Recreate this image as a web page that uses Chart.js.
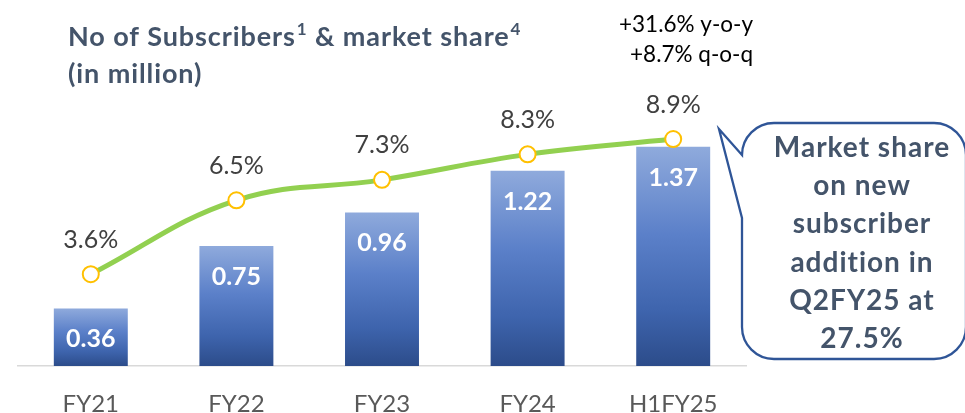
<!DOCTYPE html>
<html><head><meta charset="utf-8">
<script src="https://cdn.jsdelivr.net/npm/chart.js@4.4.1/dist/chart.umd.min.js"></script>
<style>html,body{margin:0;padding:0;background:#fff;}canvas{display:block}</style>
</head><body>
<canvas id="c" width="965" height="413"></canvas>
<script>
const categories = ['FY21', 'FY22', 'FY23', 'FY24', 'H1FY25'];
const subscribers = [0.36, 0.75, 0.96, 1.22, 1.37];
const marketShare = [3.6, 6.5, 7.3, 8.3, 8.9];
const subscriberLabels = ['0.36', '0.75', '0.96', '1.22', '1.37'];
const shareLabels = ['3.6%', '6.5%', '7.3%', '8.3%', '8.9%'];
const titleLine1 = [['No of Subscribers', false], ['1', true], [' & market share', false], ['4', true]];
const titleLine2 = '(in million)';
const growthNotes = ['+31.6% y-o-y', '+8.7% q-o-q'];
const calloutLines = ['Market share', 'on new', 'subscriber', 'addition in', 'Q2FY25 at', '27.5%'];

const FONT = 'Lato, "Open Sans", sans-serif';

function barGradient(c) {
  const chart = c.chart;
  const ys = chart.scales.y;
  if (!ys || c.raw === undefined) return '#4472c4';
  const top = ys.getPixelForValue(c.raw);
  const bot = ys.getPixelForValue(0);
  if (!isFinite(top) || !isFinite(bot) || top === bot) return '#4472c4';
  const g = chart.ctx.createLinearGradient(0, top, 0, bot);
  g.addColorStop(0, '#8faadc');
  g.addColorStop(0.4, '#5b80c9');
  g.addColorStop(0.75, '#3e64ad');
  g.addColorStop(1, '#2c4c8a');
  return g;
}

const overlay = {
  id: 'overlay',
  afterDatasetsDraw(chart) {
    const ctx = chart.ctx;
    ctx.save();
    ctx.textAlign = 'center';
    ctx.textBaseline = 'alphabetic';
    const bm = chart.getDatasetMeta(0);
    ctx.font = 'bold 25px ' + FONT;
    ctx.fillStyle = '#ffffff';
    bm.data.forEach((el, i) => ctx.fillText(subscriberLabels[i], el.x, el.y + 39));
    const lm = chart.getDatasetMeta(1);
    ctx.font = '25px ' + FONT;
    ctx.fillStyle = '#404040';
    lm.data.forEach((el, i) => ctx.fillText(shareLabels[i], el.x, el.y - 26.5));
    ctx.restore();
  },
  afterDraw(chart) {
    const ctx = chart.ctx;
    ctx.save();
    // title
    ctx.textAlign = 'left';
    ctx.textBaseline = 'alphabetic';
    ctx.fillStyle = '#44546a';
    ctx.letterSpacing = '0.9px';
    let x = 68;
    titleLine1.forEach(([t, sup]) => {
      if (sup) {
        ctx.font = 'bold 17px ' + FONT;
        ctx.fillText(t, x + 1, 35);
        x += ctx.measureText(t).width + 1;
      } else {
        ctx.font = 'bold 27px ' + FONT;
        ctx.fillText(t, x, 46);
        x += ctx.measureText(t).width;
      }
    });
    ctx.font = 'bold 27px ' + FONT;
    ctx.fillText(titleLine2, 68, 83);
    ctx.letterSpacing = '0px';
    // growth notes
    ctx.font = '22.5px ' + FONT;
    ctx.fillStyle = '#000000';
    ctx.textAlign = 'right';
    ctx.fillText(growthNotes[0], 753, 32);
    ctx.fillText(growthNotes[1], 753, 62);
    // callout shape
    const L = 742, T = 123, R = 966, B = 359, r = 32;
    ctx.beginPath();
    ctx.moveTo(L, 218);
    ctx.lineTo(719, 129);
    ctx.lineTo(L, T + r);
    ctx.arcTo(L, T, L + r, T, r);
    ctx.lineTo(R - r, T);
    ctx.arcTo(R, T, R, T + r, r);
    ctx.lineTo(R, B - r);
    ctx.arcTo(R, B, R - r, B, r);
    ctx.lineTo(L + r, B);
    ctx.arcTo(L, B, L, B - r, r);
    ctx.closePath();
    ctx.fillStyle = '#ffffff';
    ctx.fill();
    ctx.lineWidth = 2.3;
    ctx.strokeStyle = '#2f5597';
    ctx.lineJoin = 'miter';
    ctx.stroke();
    ctx.font = 'bold 28px ' + FONT;
    ctx.letterSpacing = '1px';
    ctx.fillStyle = '#44546a';
    ctx.textAlign = 'center';
    calloutLines.forEach((t, i) => ctx.fillText(t, 862, 157 + i * 38.2));
    ctx.restore();
  }
};

new Chart(document.getElementById('c'), {
  data: {
    labels: categories,
    datasets: [
      {
        type: 'bar',
        data: subscribers,
        yAxisID: 'y',
        backgroundColor: barGradient,
        borderWidth: 0,
        barPercentage: 0.508,
        categoryPercentage: 1,
        order: 1
      },
      {
        type: 'line',
        data: marketShare,
        yAxisID: 'y2',
        borderColor: '#92d050',
        borderWidth: 5,
        tension: 0.4,
        pointRadius: 8,
        pointBorderWidth: 2,
        pointBorderColor: '#ffc000',
        pointBackgroundColor: '#ffffff',
        order: 0
      }
    ]
  },
  options: {
    responsive: false,
    animation: false,
    devicePixelRatio: 1,
    layout: { padding: { left: 18, right: 219, top: 46, bottom: 0 } },
    plugins: { legend: { display: false }, tooltip: { enabled: false }, title: { display: false } },
    scales: {
      x: {
        grid: { display: false, drawTicks: false },
        border: { display: true, color: '#d9d9d9', width: 1.5 },
        ticks: { color: '#595959', font: { family: FONT, size: 24 }, padding: 24 },
        afterFit(s) { s.height = 47; }
      },
      y: { display: false, min: 0, max: 2.0 },
      y2: { display: false, min: 0, max: 12.55, position: 'right' }
    }
  },
  plugins: [overlay]
});
</script>
</body></html>
